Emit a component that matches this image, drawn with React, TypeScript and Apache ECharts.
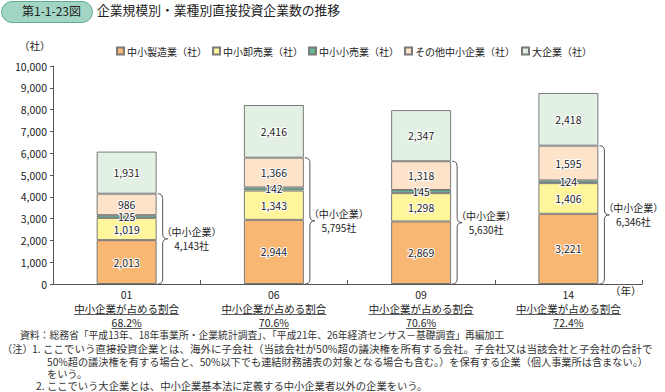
import React, { useEffect, useRef } from "react";
import * as echarts from "echarts";

const years = ["01", "06", "09", "14"];
const manufacturing = [2013, 2944, 2869, 3221];
const wholesale = [1019, 1343, 1298, 1406];
const retail = [125, 142, 145, 124];
const otherSme = [986, 1366, 1318, 1595];
const large = [1931, 2416, 2347, 2418];
const smeTotals = [4143, 5795, 5630, 6346];
const smeShares = ["68.2%", "70.6%", "70.6%", "72.4%"];
const seriesNames = [
  "中小製造業（社）",
  "中小卸売業（社）",
  "中小小売業（社）",
  "その他中小企業（社）",
  "大企業（社）",
];
const seriesValues = [manufacturing, wholesale, retail, otherSme, large];
const seriesColors = ["#f9b774", "#fff59b", "#63b893", "#fde3c9", "#e3f1e5"];
const shareCaption = "中小企業が占める割合";
const footnotes = [
  "資料：総務省「平成13年、18年事業所・企業統計調査」、「平成21年、26年経済センサス－基礎調査」再編加工",
  "（注）",
  "1. ここでいう直接投資企業とは、海外に子会社（当該会社が50%超の議決権を所有する会社。子会社又は当該会社と子会社の合計で",
  "50%超の議決権を有する場合と、50%以下でも連結財務諸表の対象となる場合も含む。）を保有する企業（個人事業所は含まない。）",
  "をいう。",
  "2. ここでいう大企業とは、中小企業基本法に定義する中小企業者以外の企業をいう。",
];

const FONT = "Noto Sans CJK JP";
const fmt = (v: number) => v.toLocaleString("en-US");

let measureCtx: CanvasRenderingContext2D | null = null;
function textWidth(text: string, size: number) {
  if (!measureCtx) {
    const c = document.createElement("canvas");
    measureCtx = c.getContext("2d");
  }
  if (!measureCtx) return text.length * size;
  measureCtx.font = `${size}px "${FONT}"`;
  return measureCtx.measureText(text).width;
}

export default function App() {
  const ref = useRef<HTMLDivElement>(null);
  useEffect(() => {
    if (!ref.current) return;
    const chart = echarts.init(ref.current, undefined, { renderer: "svg" });
    const BAR_W = 60;

    const barSeries = seriesNames.map((name, si) => ({
      name,
      type: "bar",
      stack: "total",
      barWidth: BAR_W,
      data: seriesValues[si],
      itemStyle: { color: seriesColors[si], borderColor: "#7a7a7a", borderWidth: 1 },
      label: {
        show: true,
        position: "inside",
        formatter: (p: any) => fmt(p.value),
        fontFamily: FONT,
        fontSize: 10.5,
        color: "#222",
        textBorderColor: "#fff",
        textBorderWidth: 2,
      },
      emphasis: { disabled: true },
    }));

    const bracketSeries = {
      type: "custom",
      name: "brackets",
      clip: false,
      silent: true,
      z: 10,
      encode: { x: 0, y: 1 },
      data: smeTotals.map((t, i) => [i, t]),
      renderItem: (params: any, api: any) => {
        const i = api.value(0);
        const total = api.value(1);
        const p0 = api.coord([i, 0]);
        const p1 = api.coord([i, total]);
        const x0 = p0[0] + BAR_W / 2 + 1;
        const yb = p0[1];
        const yt = p1[1];
        const ym = (yb + yt) / 2;
        const d =
          `M${x0} ${yt} Q${x0 + 5} ${yt} ${x0 + 5} ${yt + 5} ` +
          `L${x0 + 5} ${ym - 5} Q${x0 + 5} ${ym} ${x0 + 10} ${ym} ` +
          `Q${x0 + 5} ${ym} ${x0 + 5} ${ym + 5} ` +
          `L${x0 + 5} ${yb - 5} Q${x0 + 5} ${yb} ${x0} ${yb}`;
        const cx = x0 + 34;
        const txt = (text: string, yy: number) => ({
          type: "text",
          style: {
            text,
            x: cx,
            y: yy,
            align: "center",
            verticalAlign: "middle",
            fontFamily: FONT,
            fontSize: 10,
            fill: "#222",
          },
        });
        return {
          type: "group",
          children: [
            {
              type: "path",
              shape: { pathData: d },
              style: { fill: "none", stroke: "#555", lineWidth: 1 },
            },
            txt("（中小企業）", ym - 7),
            txt(fmt(total) + "社", ym + 7),
          ],
        };
      },
    };

    const catSeries = {
      type: "custom",
      name: "cats",
      clip: false,
      silent: true,
      z: 10,
      encode: { x: 0, y: 1 },
      data: years.map((_, i) => [i, 0]),
      renderItem: (params: any, api: any) => {
        const i = api.value(0);
        const p = api.coord([i, 0]);
        const x = p[0];
        const y = p[1];
        const share = smeShares[i];
        const w1 = textWidth(shareCaption, 10.5);
        const w2 = textWidth(share, 10.5);
        const mk = (text: string, yy: number) => ({
          type: "text",
          style: {
            text,
            x,
            y: yy,
            align: "center",
            verticalAlign: "middle",
            fontFamily: FONT,
            fontSize: 10.5,
            fill: "#222",
          },
        });
        const ul = (w: number, yy: number) => ({
          type: "line",
          shape: { x1: x - w / 2, y1: yy, x2: x + w / 2, y2: yy },
          style: { stroke: "#333", lineWidth: 0.8 },
        });
        return {
          type: "group",
          children: [
            mk(years[i], y + 10),
            mk(shareCaption, y + 24),
            ul(w1, y + 30.5),
            mk(share, y + 38),
            ul(w2, y + 44.5),
          ],
        };
      },
    };

    const footY = [337, 350, 350, 362.5, 374.5, 387];
    const footX = [20, 2, 32, 47, 47, 36];
    const footSize = [9.8, 10.3, 10.5, 10.2, 10.2, 10.3];
    const legendLefts = [111, 207, 303, 399, 516];

    chart.setOption({
      animation: false,
      textStyle: { fontFamily: FONT },
      grid: { left: 53, right: 23, top: 66, bottom: 108 },
      legend: seriesNames.map((n, k) => ({
        data: [n],
        top: 41,
        left: legendLefts[k],
        icon: "rect",
        itemWidth: 7,
        itemHeight: 7,
        selectedMode: false,
        textStyle: { fontFamily: FONT, fontSize: 10, color: "#222", padding: [0, 0, 0, -2] },
      })),
      xAxis: {
        type: "category",
        data: years,
        axisLine: { lineStyle: { color: "#555", width: 1 } },
        axisTick: { show: true, inside: true, length: 4, alignWithLabel: false, lineStyle: { color: "#555" } },
        axisLabel: { show: false },
      },
      yAxis: {
        type: "value",
        min: 0,
        max: 10000,
        interval: 1000,
        axisLine: { show: true, lineStyle: { color: "#555", width: 1 } },
        axisTick: { show: true, length: 3, lineStyle: { color: "#555" } },
        splitLine: { show: false },
        axisLabel: {
          formatter: (v: number) => fmt(v),
          fontFamily: FONT,
          fontSize: 10.5,
          color: "#222",
          margin: 6,
        },
      },
      graphic: [
        {
          type: "rect",
          left: 1,
          top: 1,
          shape: { width: 91, height: 21, r: 10.5 },
          style: { fill: "#a3d5c4", stroke: "#5fae92", lineWidth: 1 },
        },
        {
          type: "text",
          left: 22,
          top: 4.5,
          style: { text: "第1-1-23図", fontFamily: FONT, fontSize: 12, fill: "#222" },
        },
        {
          type: "text",
          left: 97,
          top: 3.5,
          style: {
            text: "企業規模別・業種別直接投資企業数の推移",
            fontFamily: FONT,
            fontSize: 12.8,
            fill: "#222",
          },
        },
        {
          type: "text",
          left: 19,
          top: 40,
          style: { text: "（社）", fontFamily: FONT, fontSize: 10.5, fill: "#222" },
        },
        {
          type: "text",
          left: 610,
          top: 285,
          style: { text: "（年）", fontFamily: FONT, fontSize: 10.5, fill: "#222" },
        },
        ...footnotes.map((t, k) => ({
          type: "text",
          left: footX[k],
          top: footY[k] - 6.5,
          style: { text: t, fontFamily: FONT, fontSize: footSize[k], fill: "#333" },
        })),
      ],
      series: [...barSeries, bracketSeries, catSeries],
    } as any);
    return () => chart.dispose();
  }, []);
  return (
    <div
      ref={ref}
      style={{ position: "absolute", left: 0, top: 0, width: 665, height: 392 }}
    />
  );
}
